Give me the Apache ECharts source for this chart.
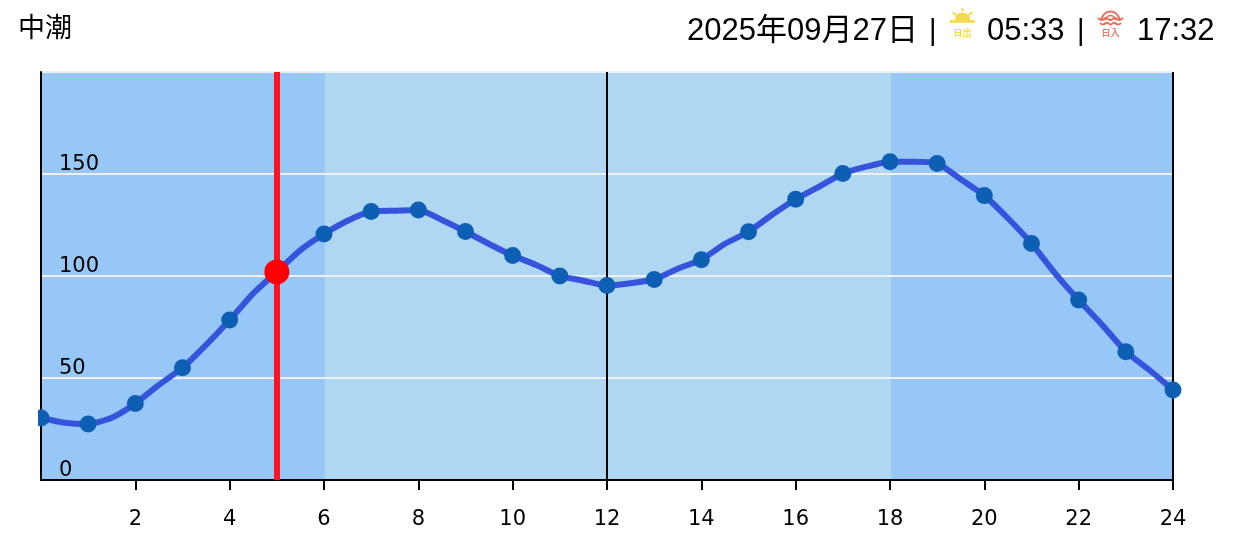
<!DOCTYPE html>
<html>
<head>
<meta charset="utf-8">
<title>中潮</title>
<script src="https://cdn.jsdelivr.net/npm/echarts@6/dist/echarts.min.js"></script>
<style>
  html, body { margin: 0; padding: 0; background: #fff; }
  #chart { width: 1238px; height: 554px; }
</style>
</head>
<body>
<div id="chart"></div>
<script>
// tide height read every half hour
const times = [0, 0.5, 1, 1.5, 2, 2.5, 3, 3.5, 4, 4.5, 5, 5.5, 6, 6.5, 7, 7.5, 8, 8.5, 9, 9.5, 10, 10.5, 11, 11.5, 12,
  12.5, 13, 13.5, 14, 14.5, 15, 15.5, 16, 16.5, 17, 17.5, 18, 18.5, 19, 19.5, 20, 20.5, 21, 21.5, 22, 22.5, 23, 23.5, 24];
const tide = [30.4, 28.1, 27.5, 30.5, 37.5, 46.6, 55, 66.2, 78.4, 91.5, 102, 112.7, 120.6, 127.1, 131.6, 132, 132.4, 127.5, 121.8, 115.7, 110, 105.4, 100, 97.7, 95.3,
  96.4, 98.3, 103.6, 108, 115.8, 121.7, 130, 137.6, 143.8, 150.3, 153.6, 156, 156, 155.2, 147.4, 139.4, 128.3, 115.9, 101.3, 88.2, 76, 62.9, 53.9, 44.1];
const xTicks = [2, 4, 6, 8, 10, 12, 14, 16, 18, 20, 22, 24];
const yTicks = [0, 50, 100, 150];
const nowHour = 5;
const nowTide = 102;
const sunRise = 6.02;
const sunSet = 18.02;

const points = times.map((t, i) => [t, tide[i]]);
const hourly = points.filter(p => Number.isInteger(p[0]));

const axisFont = 'DejaVu Sans';
const headFont = '"Liberation Sans", "Noto Sans CJK JP", sans-serif';
const sunColor = '#f2dc4e';
const seaColor = '#ea6f5c';

const chart = echarts.init(document.getElementById('chart'));
chart.setOption({
  animation: false,
  grid: { left: 41, right: 65, top: 72, bottom: 74 },
  xAxis: {
    type: 'value', min: 0, max: 24, interval: 2, z: 3,
    axisLine: { lineStyle: { color: '#000', width: 2 } },
    axisTick: { length: 10, customValues: xTicks, lineStyle: { color: '#000', width: 2 } },
    axisLabel: { customValues: xTicks, margin: 29, color: '#000', fontFamily: axisFont, fontSize: 21 },
    splitLine: { show: false }
  },
  yAxis: {
    type: 'value', min: 0, max: 200, interval: 50, z: 3,
    axisLine: { show: true, onZero: false, lineStyle: { color: '#000', width: 2 } },
    axisTick: { show: false },
    axisLabel: {
      inside: true, customValues: yTicks, margin: 18, color: '#000',
      fontFamily: axisFont, fontSize: 21, verticalAlign: 'bottom', lineHeight: 19
    },
    splitLine: { lineStyle: { color: '#efefef', width: 2 } }
  },
  series: [
    {
      // day and night bands
      type: 'line', z: 1, data: [], silent: true,
      markArea: {
        silent: true,
        data: [
          [{ xAxis: 0, itemStyle: { color: '#97c7f7' } }, { xAxis: sunRise }],
          [{ xAxis: sunRise, itemStyle: { color: '#afd7f1' } }, { xAxis: sunSet }],
          [{ xAxis: sunSet, itemStyle: { color: '#97c7f7' } }, { xAxis: 24 }]
        ]
      }
    },
    {
      type: 'line', z: 2, data: [], silent: true,
      markLine: {
        silent: true, symbol: 'none', label: { show: false },
        data: [
          { xAxis: nowHour, lineStyle: { color: '#ff1425', width: 6, type: 'solid' } },
          { xAxis: 12, lineStyle: { color: '#000', width: 2, type: 'solid' } },
          { xAxis: 24, lineStyle: { color: '#000', width: 2, type: 'solid' } }
        ]
      }
    },
    {
      type: 'line', z: 4, data: points, smooth: 0.2, showSymbol: false, clip: false,
      lineStyle: { color: '#3653dc', width: 6 }
    },
    {
      type: 'scatter', z: 5, data: hourly, symbolSize: 17, clip: false,
      itemStyle: { color: '#0d5fb4', opacity: 1 }
    },
    {
      type: 'scatter', z: 6, data: [[nowHour, nowTide]], symbolSize: 25, clip: false,
      itemStyle: { color: '#ff0000', opacity: 1 }
    }
  ],
  graphic: [
    // first dot is cut off just left of the axis
    { type: 'rect', z: 10, shape: { x: 28, y: 405, width: 10, height: 26 }, style: { fill: '#fff' } },
    { type: 'text', z: 10, x: 18, y: 27, style: { text: '中潮', fill: '#000', font: '27px "Noto Sans CJK JP"', textVerticalAlign: 'middle' } },
    { type: 'text', z: 10, x: 687, y: 31.5, style: { text: '2025年09月27日', fill: '#000', font: '31px ' + headFont, textVerticalAlign: 'middle' } },
    { type: 'text', z: 10, x: 929, y: 32, style: { text: '|', fill: '#000', font: '29px ' + headFont, textVerticalAlign: 'middle' } },
    { type: 'text', z: 10, x: 987, y: 31.5, style: { text: '05:33', fill: '#000', font: '31px ' + headFont, textVerticalAlign: 'middle' } },
    { type: 'text', z: 10, x: 1077, y: 32, style: { text: '|', fill: '#000', font: '29px ' + headFont, textVerticalAlign: 'middle' } },
    { type: 'text', z: 10, x: 1137, y: 31.5, style: { text: '17:32', fill: '#000', font: '31px ' + headFont, textVerticalAlign: 'middle' } },
    // sunrise icon
    { type: 'sector', z: 10, shape: { cx: 962.5, cy: 20.5, r: 8, startAngle: Math.PI, endAngle: 2 * Math.PI }, style: { fill: sunColor } },
    { type: 'rect', z: 10, shape: { x: 950, y: 20, width: 25, height: 2.8 }, style: { fill: sunColor } },
    { type: 'line', z: 10, shape: { x1: 962.5, y1: 8, x2: 962.5, y2: 11 }, style: { stroke: sunColor, lineWidth: 2 } },
    { type: 'line', z: 10, shape: { x1: 952.7, y1: 12.3, x2: 956.5, y2: 15.3 }, style: { stroke: sunColor, lineWidth: 2 } },
    { type: 'line', z: 10, shape: { x1: 972.3, y1: 12.3, x2: 968.5, y2: 15.3 }, style: { stroke: sunColor, lineWidth: 2 } },
    { type: 'text', z: 10, x: 962.5, y: 33, style: { text: '日出', fill: sunColor, font: 'bold 9px "Noto Sans CJK JP"', textAlign: 'center', textVerticalAlign: 'middle' } },
    // sunset icon
    { type: 'arc', z: 10, shape: { cx: 1110.5, cy: 20.5, r: 9, startAngle: Math.PI, endAngle: 2 * Math.PI }, style: { stroke: seaColor, lineWidth: 2, fill: null } },
    { type: 'arc', z: 10, shape: { cx: 1110.5, cy: 20.5, r: 5, startAngle: Math.PI, endAngle: 2 * Math.PI }, style: { stroke: seaColor, lineWidth: 1.6, fill: null } },
    { type: 'polyline', z: 10, shape: { points: [[1098, 18], [1102, 20], [1106, 18], [1110.5, 20], [1115, 18], [1119, 20], [1123, 18]], smooth: 0.5 }, style: { stroke: seaColor, lineWidth: 2, fill: null } },
    { type: 'polyline', z: 10, shape: { points: [[1100, 23], [1103, 24.5], [1107, 22.8], [1110.5, 24.5], [1114, 22.8], [1118, 24.5], [1121, 23]], smooth: 0.5 }, style: { stroke: seaColor, lineWidth: 2, fill: null } },
    { type: 'text', z: 10, x: 1110.5, y: 32.7, style: { text: '日入', fill: '#e8806e', font: 'bold 9px "Noto Sans CJK JP"', textAlign: 'center', textVerticalAlign: 'middle' } }
  ]
});
</script>
</body>
</html>
